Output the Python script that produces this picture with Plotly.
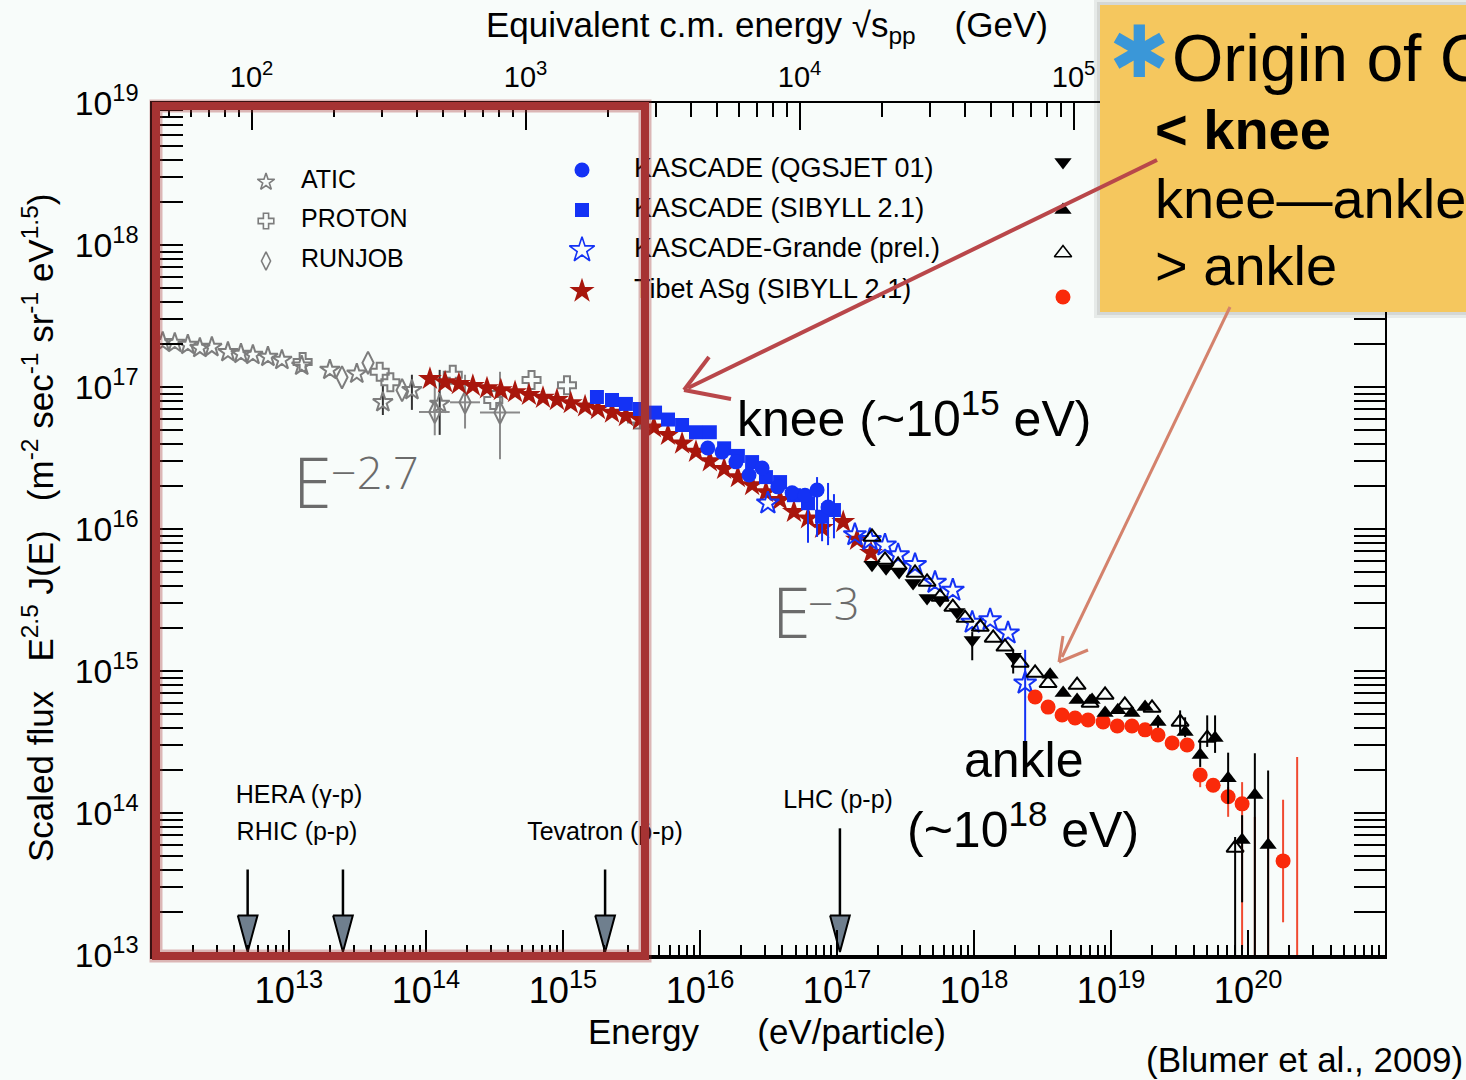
import math
import plotly.graph_objects as go

# ---------------------------------------------------------------
# Cosmic-ray all-particle spectrum, scaled flux E^2.5 J(E)
# energies in eV, flux in m^-2 s^-1 sr^-1 eV^1.5
# ---------------------------------------------------------------

# direct measurements (balloon)
atic_energy = [1.2e12, 1.47e12, 1.83e12, 2.24e12, 2.74e12, 3.59e12, 4.47e12, 5.46e12,
               7.03e12, 8.89e12, 1.24e13, 1.99e13, 3.13e13, 4.85e13, 7.9e13, 1.26e14]
atic_flux = [2.07e17, 2.04e17, 1.98e17, 1.88e17, 1.91e17, 1.76e17, 1.71e17, 1.68e17,
             1.63e17, 1.55e17, 1.41e17, 1.32e17, 1.24e17, 7.8e16, 9.5e16, 7.6e16]
atic_err_up = [0, 0, 0, 0, 0, 0, 0, 0, 0, 0, 0, 0, 0, 2.5e16, 2.7e16, 5.6e16]
atic_err_dn = [0, 0, 0, 0, 0, 0, 0, 0, 0, 0, 0, 0, 0, 1.45e16, 2.6e16, 3.0e16]

proton_energy = [1.26e13, 4.6e13, 5.5e13, 1.57e14, 3.1e14, 5.9e14, 1.07e15, 3.47e15]
proton_flux = [1.5e17, 1.28e17, 1.08e17, 1.22e17, 8.1e16, 1.12e17, 1.03e17, 5.9e16]

runjob_energy = [2.44e13, 3.78e13, 6.7e13, 1.16e14, 1.93e14, 3.47e14]
runjob_flux = [1.17e17, 1.48e17, 9.5e16, 6.67e16, 7.8e16, 6.6e16]
runjob_err_up = [0, 0, 0, 4.5e16, 4.4e16, 6.2e16]
runjob_err_dn = [0, 0, 0, 2.1e16, 2.7e16, 3.5e16]
runjob_e_up = [0, 0, 0, 3.3e13, 5.5e13, 1.39e14]
runjob_e_dn = [0, 0, 0, 2.7e13, 4.3e13, 0.99e14]

# air-shower arrays
tibet_energy = [1.07e14, 1.38e14, 1.74e14, 2.2e14, 2.79e14, 3.52e14, 4.47e14, 5.65e14,
                7.15e14, 9.04e14, 1.14e15, 1.45e15, 1.8e15, 2.28e15, 2.88e15, 3.65e15,
                4.61e15, 5.84e15, 7.4e15, 9.35e15, 1.18e16, 1.5e16, 1.89e16, 2.4e16,
                3.03e16, 3.84e16, 4.85e16, 6.14e16, 7.78e16, 1.11e17, 1.4e17, 1.77e17]
tibet_flux = [1.14e17, 1.08e17, 1.05e17, 1.02e17, 9.8e16, 9.5e16, 9.2e16, 8.8e16,
              8.4e16, 8.1e16, 7.7e16, 7.3e16, 7.0e16, 6.6e16, 6.25e16, 5.9e16,
              5.2e16, 4.6e16, 4.0e16, 3.5e16, 3.0e16, 2.65e16, 2.32e16, 2.04e16,
              1.82e16, 1.6e16, 1.32e16, 1.19e16, 1.02e16, 1.12e16, 8.4e15, 6.8e15]

kascade_sib_energy = [1.77e15, 2.28e15, 2.88e15, 3.65e15, 4.7e15, 5.84e15, 7.4e15, 9.35e15,
                      1.18e16, 1.5e16, 1.89e16, 2.4e16, 3.03e16, 3.84e16, 4.85e16, 6.14e16,
                      7.78e16, 9.5e16]
kascade_sib_flux = [8.5e16, 8.1e16, 7.6e16, 7.0e16, 6.6e16, 5.9e16, 5.4e16, 4.8e16,
                    4.8e16, 3.7e16, 3.27e16, 2.96e16, 2.32e16, 2.14e16, 1.73e16, 1.52e16,
                    1.22e16, 1.36e16]
kascade_sib_err_up = [0] * 15 + [0.2e16, 0.3e16, 0.4e16]
kascade_sib_err_dn = [0] * 15 + [0.72e16, 0.4e16, 0.5e16]

kascade_qgs_energy = [1.14e16, 1.45e16, 1.83e16, 2.28e16, 2.84e16, 3.7e16, 4.7e16, 5.84e16,
                      7.15e16, 8.6e16]
kascade_qgs_flux = [3.72e16, 3.48e16, 2.97e16, 2.4e16, 2.69e16, 1.98e16, 1.8e16, 1.73e16,
                    1.88e16, 1.43e16]
kascade_qgs_err_up = [0, 0, 0, 0, 0, 0, 0, 0, 0.44e16, 0.68e16]
kascade_qgs_err_dn = [0, 0, 0, 0, 0, 0, 0, 0, 1.0e16, 0.66e16]

grande_energy = [3.13e16, 1.35e17, 1.74e17, 2.24e17, 2.79e17, 3.71e17, 5.19e17, 7.0e17,
                 9.7e17, 1.31e18, 1.77e18, 2.36e18]
grande_flux = [1.52e16, 9.1e15, 8.4e15, 7.7e15, 6.56e15, 5.6e15, 4.2e15, 3.7e15,
               2.2e15, 2.29e15, 1.85e15, 8.2e14]
grande_err_up = [0] * 11 + [5.9e14]
grande_err_dn = [0] * 11 + [5.7e14]

hires_mia_energy = [1.8e17, 2.28e17, 2.84e17, 3.59e17, 4.54e17, 5.65e17, 7.5e17, 9.7e17, 1.93e18]
hires_mia_flux = [5.6e15, 5.3e15, 4.98e15, 4.17e15, 3.27e15, 3.16e15, 2.6e15, 1.65e15, 1.26e15]
hires_mia_err_up = [0, 0, 0, 0, 0, 0, 0, 0.23e15, 0.15e15]
hires_mia_err_dn = [0, 0, 0, 0, 0, 0, 0, 0.46e15, 0.3e15]

hires1_energy = [3.59e18, 4.47e18, 5.65e18, 7.27e18, 9.04e18, 1.12e19, 1.42e19, 1.77e19,
                 2.2e19, 3.47e19, 4.47e19, 5.74e19, 7.15e19, 9.04e19, 1.12e20, 1.4e20]
hires1_flux = [9.4e14, 7.0e14, 6.25e14, 6.25e14, 5.06e14, 5.3e14, 5.06e14, 5.57e14,
               4.38e14, 3.72e14, 2.56e14, 3.37e14, 1.76e14, 6.45e13, 1.34e14, 5.96e13]
hires1_err_up = [0, 0, 0, 0, 0, 0, 0, 0, 0.5e14, 1.0e14, 0.7e14, 1.5e14, 0.9e14, 3.2e13, 1.3e14, 1.4e14]
hires1_err_dn = [0, 0, 0, 0, 0, 0, 0, 0, 0.4e14, 0.3e14, 0.45e14, 0.72e14, 0.6e14, 4.1e13, 1.33e14, 5.9e13]

hires2_energy = [1.8e17, 2.24e17, 2.79e17, 3.71e17, 4.54e17, 5.65e17, 7.0e17, 8.6e17,
                 1.11e18, 1.38e18, 1.68e18, 2.17e18, 2.79e18, 3.47e18, 5.65e18, 7.03e18,
                 9.04e18, 1.26e19, 1.99e19, 3.19e19, 5.03e19, 8.04e19]
hires2_flux = [8.8e15, 6.05e15, 5.58e15, 4.9e15, 4.24e15, 3.32e15, 2.82e15, 2.36e15,
               2.04e15, 1.71e15, 1.48e15, 1.14e15, 9.7e14, 8.2e14, 7.96e14, 5.96e14,
               6.78e14, 5.77e14, 5.49e14, 4.38e14, 3.37e14, 5.68e13]
hires2_err_up = [0] * 19 + [0.9e14, 1.5e14, 1.1e13]
hires2_err_dn = [0] * 19 + [0.7e14, 0.45e14, 5.6e13]

auger_energy = [2.79e18, 3.47e18, 4.39e18, 5.46e18, 6.79e18, 8.75e18, 1.11e19, 1.42e19,
                1.77e19, 2.2e19, 2.79e19, 3.59e19, 4.47e19, 5.56e19, 7.15e19, 9.04e19,
                1.12e20, 1.4e20, 1.8e20, 2.28e20]
auger_flux = [6.56e14, 5.57e14, 4.9e14, 4.67e14, 4.52e14, 4.38e14, 4.1e14, 4.1e14,
              3.85e14, 3.54e14, 3.11e14, 3.01e14, 1.85e14, 1.57e14, 1.3e14, 1.16e14,
              5e12, 5e12, 4.6e13, 5e12]
auger_err_up = [0] * 12 + [0.22e14, 0.15e14, 0.22e14, 0.49e14, 8.9e13, 1.19e14, 7.8e13, 2.43e14]
auger_err_dn = [0] * 12 + [0.33e14, 0.15e14, 0.36e14, 1.05e14, 0, 0, 2.9e13, 0]

# accelerator reach, lab-frame equivalent energy (eV)
accel_energy = [5.0e12, 2.48e13, 2.03e15, 1.05e17]

PROTON_MASS_GEV = 0.938
X_LOG_RANGE = [12.0, 21.0]
Y_LOG_RANGE = [13.0, 19.0]
TOP_DECADES = [2, 3, 4, 5, 6]
TOP_LABELLED = [2, 3, 4, 5]

# ---------------------------------------------------------------
W, H = 1466, 1080
L, R, T, B = 152, 1385, 103, 955
BG = "#f8fcfa"
SANS = "Liberation Sans, Arial, sans-serif"
LIGHT = "Open Sans, Lato, sans-serif"

GRAY = "#7d7d7d"
BLUE = "#1432f5"
DARKRED = "#a8160c"
AUGER = "#fa2a0a"


def px(x):
    return (x - L) / (R - L)


def py(y):
    return (B - y) / (B - T)


fig = go.Figure()


def series(name, e, f, symbol, size, color, open_marker=False, err=None, xerr=None,
           err_color=None, line_width=2):
    marker = dict(symbol=symbol, size=size)
    if open_marker:
        marker.update(color=color, line=dict(color=color, width=line_width))
    else:
        marker.update(color=color, line=dict(width=0))
    kw = {}
    if err is not None:
        kw["error_y"] = dict(type="data", symmetric=False, array=err[0], arrayminus=err[1],
                             color=err_color or color, thickness=2, width=0)
    if xerr is not None:
        kw["error_x"] = dict(type="data", symmetric=False, array=xerr[0], arrayminus=xerr[1],
                             color=err_color or color, thickness=2, width=0)
    fig.add_trace(go.Scatter(x=e, y=f, mode="markers", name=name, marker=marker,
                             showlegend=False, **kw))


series("ATIC", atic_energy, atic_flux, "star-open", 15, GRAY, True,
       err=(atic_err_up, atic_err_dn), err_color="#333333")
series("RUNJOB", runjob_energy, runjob_flux, "diamond-tall-open", 16, GRAY, True,
       err=(runjob_err_up, runjob_err_dn), xerr=(runjob_e_up, runjob_e_dn), err_color="#8a8a8a")
series("PROTON", proton_energy, proton_flux, "cross-open", 15, GRAY, True)
series("Tibet ASg (SIBYLL 2.1)", tibet_energy, tibet_flux, "star", 18, DARKRED)
series("KASCADE (SIBYLL 2.1)", kascade_sib_energy, kascade_sib_flux, "square", 14, BLUE,
       err=(kascade_sib_err_up, kascade_sib_err_dn))
series("KASCADE (QGSJET 01)", kascade_qgs_energy, kascade_qgs_flux, "circle", 15, BLUE,
       err=(kascade_qgs_err_up, kascade_qgs_err_dn))
series("KASCADE-Grande (prel.)", grande_energy, grande_flux, "star-open", 17, BLUE, True,
       err=(grande_err_up, grande_err_dn))
series("HiRes-MIA", hires_mia_energy, hires_mia_flux, "triangle-down", 15, "black",
       err=(hires_mia_err_up, hires_mia_err_dn))
series("HiRes II", hires2_energy, hires2_flux, "triangle-up-open", 15, "black", True,
       err=(hires2_err_up, hires2_err_dn))
series("Auger 2009", auger_energy, auger_flux, "circle", 15, AUGER,
       err=(auger_err_up, auger_err_dn), err_color="#f04a30")
series("HiRes I", hires1_energy, hires1_flux, "triangle-up", 15, "black",
       err=(hires1_err_up, hires1_err_dn))

# accelerator arrows (shaft + grey head pointing at the energy axis)
shaft_top = [4.0e13, 4.0e13, 4.0e13, 7.8e13]
head_top, head_tip, half_w = 1.9e13, 1.05e13, 10 ** 0.072
for e, top in zip(accel_energy, shaft_top):
    fig.add_trace(go.Scatter(x=[e, e], y=[top, head_top], mode="lines",
                             line=dict(color="black", width=2.5), showlegend=False,
                             hoverinfo="skip"))
    fig.add_trace(go.Scatter(x=[e / half_w, e * half_w, e, e / half_w],
                             y=[head_top, head_top, head_tip, head_top], mode="lines",
                             fill="toself", fillcolor="#6f7f8e",
                             line=dict(color="black", width=2), showlegend=False,
                             hoverinfo="skip"))


# top axis: equivalent centre-of-mass energy sqrt(s) = sqrt(2 m_p E_lab)
def sqrt_s_log(log_e):
    return 0.5 * (math.log10(2 * PROTON_MASS_GEV) + log_e - 9)


top_lo, top_hi = sqrt_s_log(X_LOG_RANGE[0]), sqrt_s_log(X_LOG_RANGE[1])
top_major = [10 ** k for k in TOP_DECADES]
top_text = ["10<sup>%d</sup>" % k if k in TOP_LABELLED else "" for k in TOP_DECADES]
top_minor = [m * 10 ** k for k in range(1, 7) for m in range(2, 10)]
fig.add_trace(go.Scatter(x=[10 ** top_lo, 10 ** top_hi], y=[1e16, 1e16], xaxis="x2",
                         mode="markers", marker=dict(opacity=0), showlegend=False,
                         hoverinfo="skip"))

# ---- key: symbols and labels on a paper-unit overlay ----
key_rows = [
    # (symbol, size, colour, open, marker x px, y px, label, label x px, font size)
    ("star-open", 13, GRAY, True, 266, 182, "ATIC", 301, 25),
    ("cross-open", 13, GRAY, True, 266, 221, "PROTON", 301, 25),
    ("diamond-tall-open", 13, GRAY, True, 266, 261, "RUNJOB", 301, 25),
    ("circle", 15, BLUE, False, 582, 170, "KASCADE (QGSJET 01)", 634, 27),
    ("square", 14, BLUE, False, 582, 210, "KASCADE (SIBYLL 2.1)", 634, 27),
    ("star-open", 19, BLUE, True, 582, 250, "KASCADE-Grande (prel.)", 634, 27),
    ("star", 19, DARKRED, False, 582, 291, "Tibet ASg (SIBYLL 2.1)", 634, 27),
    ("triangle-down", 15, "black", False, 1063, 162, None, 0, 0),
    ("triangle-up", 15, "black", False, 1063, 210, None, 0, 0),
    ("triangle-up-open", 15, "black", True, 1063, 253, None, 0, 0),
    ("circle", 15, AUGER, False, 1063, 297, None, 0, 0),
]
for sym, size, col, is_open, mx, my, label, lx, fs in key_rows:
    mk = dict(symbol=sym, size=size, color=col)
    mk["line"] = dict(color=col, width=1.6) if is_open else dict(width=0)
    fig.add_trace(go.Scatter(x=[px(mx)], y=[py(my)], xaxis="x3", yaxis="y2", mode="markers",
                             marker=mk, showlegend=False, hoverinfo="skip"))
    if label:
        fig.add_trace(go.Scatter(x=[px(lx)], y=[py(my)], xaxis="x3", yaxis="y2", mode="text",
                                 text=[label], textposition="middle right",
                                 textfont=dict(family=SANS, size=fs, color="black"),
                                 showlegend=False, hoverinfo="skip", cliponaxis=False))

accel_labels = [("HERA (γ-p)", 299, 797), ("RHIC (p-p)", 297, 834),
                ("Tevatron (p\u0304-p)", 605, 834), ("LHC (p-p)", 838, 802)]
for txt, lx, ly in accel_labels:
    fig.add_trace(go.Scatter(x=[px(lx)], y=[py(ly)], xaxis="x3", yaxis="y2", mode="text",
                             text=[txt], textposition="middle center",
                             textfont=dict(family=SANS, size=25, color="black"),
                             showlegend=False, hoverinfo="skip", cliponaxis=False))

# ---- annotations ----
ann = []


def note(text, x, y, size, family=SANS, color="black", xanchor="center", angle=0, bold=False,
         weight=None):
    f = dict(family=family, size=size, color=color)
    if bold:
        f["weight"] = "bold"
    if weight:
        f["weight"] = weight
    ann.append(dict(text=text, x=px(x), y=py(y), xref="paper", yref="paper",
                    showarrow=False, xanchor=xanchor, yanchor="middle",
                    font=f, textangle=angle))


sp = "\u00a0"
note("Energy" + sp * 6 + "(eV/particle)", 767, 1031, 35)
note("Equivalent c.m. energy √s<sub>pp</sub>" + sp * 4 + "(GeV)", 767, 27, 35)
note("Scaled flux" + sp * 3 + "E<sup>2.5</sup> J(E)" + sp * 3 +
     "(m<sup>-2</sup> sec<sup>-1</sup> sr<sup>-1</sup> eV<sup>1.5</sup>)", 38, 528, 35, angle=-90)

note("knee (~10<sup>15</sup> eV)", 914, 415, 50)
note("ankle", 1024, 760, 50)
note("(~10<sup>18</sup> eV)", 1023, 826, 50)

# spectral index labels
note("E", 312, 481, 70, family=LIGHT, color="#6b6b6b", weight=300)
note("−2.7", 329, 471, 45, family=LIGHT, color="#6b6b6b", xanchor="left", weight=300)
note("E", 791, 611, 70, family=LIGHT, color="#6b6b6b", weight=300)
note("−3", 806, 602, 45, family=LIGHT, color="#6b6b6b", xanchor="left", weight=300)

# callout box text
note("✱", 1139, 52, 72, family="DejaVu Sans", color="#3a97d8")
note("Origin of CRs", 1170, 58, 66, xanchor="left")
note("< knee", 1153, 130, 56, xanchor="left", bold=True)
note("knee—ankle", 1153, 198, 56, xanchor="left")
note("> ankle", 1153, 265, 56, xanchor="left")
note("(Blumer et al., 2009)", 1465, 1059, 35, xanchor="right")

# ---- shapes: highlight frame, pointers, callout box ----
shapes = []
RED = "#a63333"
shapes.append(dict(type="rect", xref="paper", yref="paper", x0=px(156), x1=px(645),
                   y0=py(956), y1=py(106), line=dict(color="rgba(166,51,51,0.35)", width=13),
                   layer="above"))
shapes.append(dict(type="rect", xref="paper", yref="paper", x0=px(156), x1=px(645),
                   y0=py(956), y1=py(106), line=dict(color=RED, width=8), layer="above"))


def seg(x0, y0, x1, y1, color, width):
    shapes.append(dict(type="line", xref="paper", yref="paper", x0=px(x0), y0=py(y0),
                       x1=px(x1), y1=py(y1), line=dict(color=color, width=width),
                       layer="above"))


# callout shadow + box
shapes.append(dict(type="rect", xref="paper", yref="paper", x0=px(1094), x1=px(1480),
                   y0=py(318), y1=py(-1), fillcolor="rgba(0,0,0,0.07)", line=dict(width=0),
                   layer="above"))
shapes.append(dict(type="rect", xref="paper", yref="paper", x0=px(1097), x1=px(1480),
                   y0=py(315), y1=py(2), fillcolor="rgba(0,0,0,0.08)", line=dict(width=0),
                   layer="above"))
shapes.append(dict(type="rect", xref="paper", yref="paper", x0=px(1100), x1=px(1480),
                   y0=py(312), y1=py(5), fillcolor="#f5c75e", line=dict(width=0),
                   layer="above"))

# pointer to the knee
KNEE_C = "#b9474a"
seg(1157, 160, 688, 388, KNEE_C, 4)
seg(684, 390, 709, 357, KNEE_C, 4)
seg(684, 390, 731, 399, KNEE_C, 4)
# pointer to the ankle
ANK_C = "#d4826c"
seg(1230, 307, 1062, 657, ANK_C, 3)
seg(1059, 662, 1063, 636, ANK_C, 3)
seg(1059, 662, 1088, 650, ANK_C, 3)

tick_font_x = dict(family=SANS, size=29, color="black")
tick_font_y = dict(family=SANS, size=27, color="black")

fig.update_layout(
    width=W, height=H,
    margin=dict(l=L, r=W - R, t=T, b=H - B, pad=0),
    paper_bgcolor=BG, plot_bgcolor=BG,
    showlegend=False,
    xaxis=dict(type="log", range=[X_LOG_RANGE[0] + 0.001, X_LOG_RANGE[1] - 0.001], dtick=1,
               exponentformat="power", showexponent="all",
               ticks="inside", ticklen=25, tickwidth=2, tickcolor="black",
               minor=dict(ticks="inside", ticklen=10, tickwidth=1.5, tickcolor="black",
                          showgrid=False),
               showline=True, linewidth=4, linecolor="black", mirror=False,
               showgrid=False, zeroline=False, tickfont=tick_font_x, ticklabelstandoff=2),
    xaxis2=dict(type="log", overlaying="x", side="top", anchor="y",
                range=[top_lo, top_hi], tickmode="array", tickvals=top_major,
                ticktext=top_text,
                ticks="inside", ticklen=27, tickwidth=2, tickcolor="black",
                minor=dict(ticks="inside", ticklen=14, tickwidth=1.5, tickcolor="black",
                           tickmode="array", tickvals=top_minor, showgrid=False),
                showline=True, linewidth=2, linecolor="black", showgrid=False,
                zeroline=False, tickfont=tick_font_x, ticklabelstandoff=2),
    yaxis=dict(type="log", range=Y_LOG_RANGE, dtick=1, exponentformat="power",
               showexponent="all", ticks="inside", ticklen=31, tickwidth=2,
               tickcolor="black",
               minor=dict(ticks="inside", ticklen=16, tickwidth=1.5, tickcolor="black",
                          showgrid=False),
               showline=True, linewidth=2, linecolor="black", mirror="allticks",
               showgrid=False, zeroline=False, tickfont=tick_font_y, ticklabelstandoff=6),
    xaxis3=dict(overlaying="x", anchor="y2", range=[0, 1], visible=False, fixedrange=True),
    yaxis2=dict(overlaying="y", anchor="x3", range=[0, 1], visible=False, fixedrange=True),
    annotations=ann,
    shapes=shapes,
)

fig.write_html("out.html")
